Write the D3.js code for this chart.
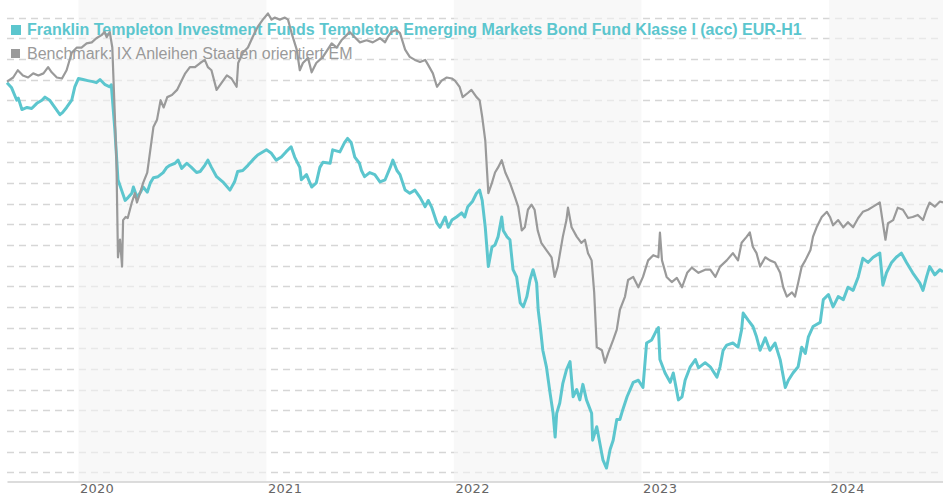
<!DOCTYPE html>
<html>
<head>
<meta charset="utf-8">
<script src="https://cdn.jsdelivr.net/npm/d3@7"></script>
<style>
  body { margin: 0; background: #fff; }
  svg { display: block; }
</style>
</head>
<body>
<svg class="line" width="943" height="500"></svg>
<script>
var fundName = 'Franklin Templeton Investment Funds Templeton Emerging Markets Bond Fund Klasse I (acc) EUR-H1';
var benchName = 'Benchmark: IX Anleihen Staaten orientiert EM';
var yearTicks = ['2020','2021','2022','2023','2024'];
var bandYears = ['2020','2022','2024'];

// performance in %
var fundDates = [
  '2019-08-15','2019-08-24','2019-09-03','2019-09-06','2019-09-13','2019-09-23','2019-10-02','2019-10-12','2019-10-22','2019-10-28',
  '2019-11-06','2019-11-16','2019-11-26','2019-12-01','2019-12-09','2019-12-19','2019-12-25','2020-01-01','2020-01-10','2020-01-19',
  '2020-01-29','2020-02-05','2020-02-12','2020-02-22','2020-03-02','2020-03-05','2020-03-12','2020-03-18','2020-03-25','2020-04-01',
  '2020-04-07','2020-04-14','2020-04-17','2020-04-24','2020-05-01','2020-05-06','2020-05-14','2020-05-20','2020-05-26','2020-06-04',
  '2020-06-14','2020-06-21','2020-06-27','2020-07-07','2020-07-13','2020-07-20','2020-07-30','2020-08-08','2020-08-18','2020-08-25',
  '2020-09-03','2020-09-09','2020-09-16','2020-09-26','2020-10-08','2020-10-22','2020-10-31','2020-11-06','2020-11-16','2020-11-26',
  '2020-12-05','2020-12-15','2021-01-01','2021-01-10','2021-01-20','2021-01-30','2021-02-08','2021-02-18','2021-02-25','2021-03-07',
  '2021-03-10','2021-03-20','2021-03-30','2021-04-08','2021-04-15','2021-04-21','2021-05-05','2021-05-10','2021-05-24','2021-06-02',
  '2021-06-08','2021-06-15','2021-06-22','2021-07-01','2021-07-05','2021-07-11','2021-07-21','2021-07-31','2021-08-10','2021-08-20',
  '2021-08-30','2021-09-04','2021-09-12','2021-09-18','2021-09-28','2021-10-07','2021-10-17','2021-10-27','2021-11-06','2021-11-12',
  '2021-11-19','2021-11-29','2021-12-05','2021-12-15','2021-12-21','2021-12-28','2022-01-06','2022-01-16','2022-01-22','2022-01-28',
  '2022-02-06','2022-02-14','2022-02-20','2022-02-25','2022-03-03','2022-03-06','2022-03-09','2022-03-16','2022-03-22','2022-03-28',
  '2022-04-04','2022-04-07','2022-04-14','2022-04-20','2022-04-26','2022-05-03','2022-05-10','2022-05-16','2022-05-23','2022-05-29',
  '2022-06-04','2022-06-11','2022-06-14','2022-06-18','2022-06-23','2022-06-30','2022-07-07','2022-07-13','2022-07-17','2022-07-20',
  '2022-07-26','2022-08-01','2022-08-08','2022-08-15','2022-08-21','2022-08-28','2022-09-03','2022-09-09','2022-09-16','2022-09-26',
  '2022-09-28','2022-10-06','2022-10-12','2022-10-18','2022-10-25','2022-11-01','2022-11-07','2022-11-14','2022-11-20','2022-11-26',
  '2022-12-04','2022-12-16','2022-12-26','2023-01-04','2023-01-11','2023-01-21','2023-01-31','2023-02-03','2023-02-06','2023-02-16',
  '2023-02-26','2023-03-04','2023-03-14','2023-03-21','2023-03-27','2023-04-06','2023-04-16','2023-04-22','2023-05-05','2023-05-15',
  '2023-05-28','2023-06-03','2023-06-09','2023-06-16','2023-06-28','2023-07-08','2023-07-15','2023-07-18','2023-07-28','2023-08-06',
  '2023-08-13','2023-08-20','2023-08-30','2023-09-08','2023-09-18','2023-09-28','2023-10-08','2023-10-14','2023-10-23','2023-11-02',
  '2023-11-09','2023-11-16','2023-11-22','2023-12-01','2023-12-15','2023-12-21','2023-12-31','2024-01-09','2024-01-19','2024-01-29',
  '2024-02-07','2024-02-17','2024-02-27','2024-03-07','2024-03-17','2024-03-27','2024-04-09','2024-04-15','2024-04-22','2024-05-02',
  '2024-05-11','2024-05-21','2024-05-31','2024-06-12','2024-06-26','2024-07-02','2024-07-09','2024-07-15','2024-07-25','2024-08-04',
  '2024-08-10'
];
var fundValues = [
  -0.3,-0.8,-2.0,-1.8,-2.9,-2.7,-2.8,-2.3,-2.0,-1.7,
  -2.0,-2.7,-3.4,-3.2,-2.7,-2.0,-0.7,0.1,0.0,-0.1,
  -0.2,-0.3,0.0,-0.5,-0.7,-0.5,-4.9,-9.7,-10.7,-11.7,
  -11.4,-11.0,-10.4,-11.4,-10.9,-10.4,-10.9,-10.0,-9.5,-9.4,
  -9.0,-8.5,-8.3,-8.1,-7.8,-8.6,-8.1,-8.5,-9.0,-8.9,
  -8.3,-7.8,-8.5,-9.4,-9.9,-10.7,-9.9,-8.9,-8.8,-8.3,
  -7.8,-7.3,-6.8,-7.1,-7.8,-7.5,-7.0,-6.5,-7.5,-8.5,
  -9.7,-9.2,-10.4,-10.0,-8.5,-8.0,-8.1,-6.8,-7.0,-6.1,
  -5.7,-6.1,-7.5,-8.1,-8.8,-9.4,-9.0,-9.2,-9.9,-9.7,
  -8.5,-7.8,-8.8,-9.2,-10.7,-11.0,-10.7,-11.4,-12.3,-11.7,
  -12.4,-13.9,-14.3,-13.3,-14.3,-13.6,-13.3,-12.9,-13.3,-12.3,
  -11.8,-11.0,-10.7,-11.7,-14.3,-16.2,-18.1,-16.2,-16.0,-15.2,
  -13.3,-14.6,-15.2,-15.5,-18.4,-19.1,-21.6,-22.0,-21.0,-19.4,
  -18.4,-19.7,-22.3,-23.9,-26.2,-27.8,-30.3,-32.3,-34.6,-32.3,
  -31.3,-29.4,-28.1,-27.3,-30.7,-30.0,-31.0,-29.5,-31.0,-32.3,
  -34.9,-33.6,-35.2,-36.8,-37.6,-35.8,-34.9,-32.9,-32.9,-31.9,
  -30.7,-29.3,-29.1,-29.8,-25.5,-25.2,-24.2,-24.0,-27.1,-28.4,
  -29.3,-28.4,-31.0,-30.7,-29.1,-27.8,-27.1,-27.9,-27.4,-27.8,
  -28.8,-27.8,-26.2,-25.7,-25.5,-25.9,-24.2,-22.6,-23.3,-23.9,
  -24.9,-26.2,-25.0,-26.2,-25.5,-27.1,-29.8,-29.1,-28.4,-27.8,
  -25.9,-26.5,-24.9,-23.9,-23.5,-21.3,-20.8,-22.0,-21.0,-21.3,
  -20.1,-20.4,-19.1,-17.3,-17.7,-17.2,-16.8,-19.9,-18.7,-17.7,
  -17.2,-16.8,-17.7,-18.7,-19.7,-20.4,-19.1,-18.1,-18.9,-18.4,
  -18.6
];

var benchDates = [
  '2019-08-15','2019-08-27','2019-09-05','2019-09-15','2019-09-25','2019-10-05','2019-10-15','2019-10-25','2019-11-03','2019-11-10',
  '2019-11-20','2019-11-30','2019-12-09','2019-12-19','2019-12-29','2020-01-07','2020-01-17','2020-01-27','2020-02-05','2020-02-15',
  '2020-02-21','2020-02-25','2020-03-02','2020-03-07','2020-03-12','2020-03-15','2020-03-18','2020-03-22','2020-03-26','2020-03-28',
  '2020-04-02','2020-04-06','2020-04-14','2020-04-20','2020-04-24','2020-04-30','2020-05-06','2020-05-14','2020-05-20','2020-05-26',
  '2020-06-02','2020-06-09','2020-06-15','2020-06-22','2020-07-01','2020-07-11','2020-07-21','2020-07-27','2020-08-05','2020-08-15',
  '2020-08-25','2020-09-03','2020-09-09','2020-09-16','2020-09-26','2020-10-06','2020-10-16','2020-10-25','2020-11-04','2020-11-07',
  '2020-11-16','2020-11-26','2020-12-05','2020-12-15','2020-12-25','2021-01-04','2021-01-11','2021-01-17','2021-01-27','2021-02-06',
  '2021-02-12','2021-02-19','2021-03-01','2021-03-07','2021-03-13','2021-03-23','2021-03-30','2021-04-08','2021-04-21','2021-05-08',
  '2021-05-18','2021-05-27','2021-06-06','2021-06-12','2021-06-22','2021-07-02','2021-07-15','2021-07-27','2021-08-10','2021-08-20',
  '2021-08-25','2021-09-01','2021-09-11','2021-09-18','2021-09-28','2021-10-07','2021-10-17','2021-10-27','2021-11-06','2021-11-12',
  '2021-11-21','2021-11-29','2021-12-08','2021-12-18','2021-12-28','2022-01-03','2022-01-12','2022-01-18','2022-01-28','2022-02-04',
  '2022-02-14','2022-02-20','2022-02-25','2022-03-03','2022-03-06','2022-03-09','2022-03-16','2022-03-22','2022-03-28','2022-04-04',
  '2022-04-11','2022-04-20','2022-04-30','2022-05-06','2022-05-13','2022-05-19','2022-05-25','2022-06-01','2022-06-07','2022-06-13',
  '2022-06-20','2022-06-30','2022-07-10','2022-07-16','2022-07-22','2022-08-01','2022-08-08','2022-08-11','2022-08-18','2022-08-28',
  '2022-09-06','2022-09-13','2022-09-19','2022-09-26','2022-10-01','2022-10-06','2022-10-16','2022-10-22','2022-10-28','2022-11-07',
  '2022-11-14','2022-11-20','2022-11-30','2022-12-06','2022-12-16','2022-12-26','2023-01-04','2023-01-14','2023-01-24','2023-02-03',
  '2023-02-06','2023-02-10','2023-02-19','2023-03-01','2023-03-11','2023-03-21','2023-03-31','2023-04-09','2023-04-22','2023-05-05',
  '2023-05-15','2023-05-25','2023-06-03','2023-06-16','2023-06-28','2023-07-08','2023-07-15','2023-07-25','2023-07-31','2023-08-06',
  '2023-08-13','2023-08-20','2023-08-30','2023-09-08','2023-09-18','2023-09-28','2023-10-04','2023-10-11','2023-10-21','2023-10-27',
  '2023-11-02','2023-11-09','2023-11-16','2023-11-26','2023-12-01','2023-12-08','2023-12-18','2023-12-28','2024-01-03','2024-01-09',
  '2024-01-19','2024-01-29','2024-02-07','2024-02-17','2024-02-27','2024-03-07','2024-03-17','2024-03-27','2024-04-09','2024-04-15',
  '2024-04-20','2024-04-25','2024-05-05','2024-05-14','2024-05-24','2024-06-03','2024-06-12','2024-06-22','2024-07-02','2024-07-09',
  '2024-07-15','2024-07-25','2024-08-04','2024-08-10'
];
var benchValues = [
  -0.2,0.2,0.9,0.4,0.2,0.6,0.4,0.6,1.2,0.7,
  0.2,0.1,0.9,2.6,3.1,3.1,3.5,3.6,4.0,4.3,
  4.6,4.1,4.6,3.1,-3.6,-7.8,-17.2,-15.5,-18.1,-13.6,
  -13.3,-13.4,-11.9,-11.0,-11.9,-11.0,-10.0,-9.0,-6.8,-4.6,
  -3.9,-2.0,-2.7,-1.7,-1.5,-1.0,0.0,0.6,1.2,1.2,
  1.6,1.9,1.2,0.9,-1.0,-0.3,0.4,0.1,-0.7,1.6,
  2.6,3.1,4.1,5.1,5.8,6.4,5.8,6.0,5.8,6.0,
  5.8,4.5,2.9,0.9,1.6,2.1,0.7,1.6,2.2,3.5,
  3.1,3.8,4.3,4.6,4.1,3.6,3.8,3.6,4.0,3.6,
  4.1,4.6,4.8,4.5,2.9,2.2,1.9,1.7,1.9,1.4,
  0.6,-0.7,-0.1,0.2,0.1,-0.1,-0.7,-1.7,-1.3,-1.0,
  -1.7,-2.0,-3.6,-5.9,-8.5,-11.0,-10.0,-9.0,-8.5,-7.8,
  -9.0,-10.0,-11.4,-12.3,-14.6,-14.3,-12.6,-12.1,-12.6,-14.6,
  -15.8,-16.5,-17.2,-19.1,-18.1,-15.2,-13.6,-12.4,-14.3,-15.2,
  -15.8,-15.5,-16.8,-17.5,-20.6,-25.9,-26.2,-27.4,-26.5,-25.2,
  -24.2,-22.3,-21.0,-19.4,-19.1,-20.1,-19.1,-17.5,-17.0,-17.2,
  -14.8,-17.5,-19.1,-19.6,-19.2,-20.1,-18.7,-18.2,-18.7,-18.4,
  -18.4,-19.1,-18.1,-17.5,-16.8,-17.5,-15.8,-15.2,-14.8,-16.2,
  -16.8,-18.1,-17.2,-17.5,-17.7,-18.7,-20.1,-21.0,-20.6,-21.0,
  -19.7,-18.1,-17.5,-16.5,-15.2,-14.3,-13.3,-12.8,-13.3,-14.1,
  -13.6,-14.3,-13.8,-14.3,-13.4,-12.8,-12.6,-12.3,-11.9,-13.9,
  -15.5,-13.9,-13.6,-12.4,-12.6,-13.4,-13.3,-13.1,-13.6,-12.6,
  -11.9,-12.3,-11.8,-11.9
];

var svg = d3.select('svg.line'),
  margin = {top: 0, right: 0, bottom: 18, left: 7},
  width = +svg.attr('width'),
  height = +svg.attr('height') - margin.bottom;

var parse = d3.utcParse('%Y-%m-%d');
var fund = fundDates.map(function(d, i) { return {date: parse(d), val: fundValues[i]}; });
var bench = benchDates.map(function(d, i) { return {date: parse(d), val: benchValues[i]}; });

var x = d3.scaleUtc()
  .domain([parse('2019-08-15'), parse('2024-08-10')])
  .range([margin.left, width]);
var y = d3.scaleLinear()
  .domain([-38.9, 7.7])
  .range([height - 0.5, margin.top]);

// grid lines
svg.append('g')
  .selectAll('line')
  .data(d3.range(-38, 7, 2))
  .enter().append('line')
  .attr('x1', margin.left)
  .attr('x2', width)
  .attr('y1', function(d) { return Math.round(y(d)) + 0.5; })
  .attr('y2', function(d) { return Math.round(y(d)) + 0.5; })
  .attr('stroke', '#d6d6d6')
  .attr('stroke-width', 1.3)
  .attr('stroke-dasharray', '7,5');

// alternate year bands (drawn over the grid so it looks lighter there)
svg.append('g')
  .selectAll('rect')
  .data(bandYears)
  .enter().append('rect')
  .attr('x', function(d) { return x(parse(d + '-01-01')); })
  .attr('y', 0)
  .attr('width', function(d) {
    var end = Math.min(x(parse((+d + 1) + '-01-01')), width);
    return end - x(parse(d + '-01-01'));
  })
  .attr('height', height - 0.5)
  .attr('fill', 'rgb(244,244,244)')
  .attr('fill-opacity', 0.6);

// x axis
var xAxis = svg.append('g')
  .attr('transform', 'translate(0,' + (height - 0.5) + ')')
  .call(d3.axisBottom(x)
    .tickValues(yearTicks.map(function(d) { return parse(d + '-01-01'); }))
    .tickFormat(d3.utcFormat('%Y'))
    .tickSize(0)
    .tickSizeOuter(0)
  );
xAxis.select('.domain').attr('stroke', '#d0d0d0').attr('stroke-width', 1.5);
xAxis.selectAll('text')
  .attr('text-anchor', 'start')
  .attr('x', 1)
  .attr('y', 2.5)
  .attr('dy', '0.71em')
  .style('font-family', 'DejaVu Sans, Verdana, sans-serif')
  .style('font-size', '13px')
  .style('letter-spacing', '0.3px')
  .attr('fill', '#666');

// legend
var legend = svg.append('g').style('font-family', 'Liberation Sans, Arial, sans-serif').style('font-size', '16px');
legend.append('rect').attr('x', 11).attr('y', 25).attr('width', 10).attr('height', 10).attr('fill', '#5cc6ce');
legend.append('text').attr('x', 27).attr('y', 35).attr('fill', '#5cc6ce').style('font-weight', 'bold').text(fundName);
legend.append('rect').attr('x', 11).attr('y', 49).attr('width', 9).attr('height', 9).attr('fill', '#9a9a9a');
legend.append('text').attr('x', 27).attr('y', 59).attr('fill', '#9a9a9a').text(benchName);

var line = d3.line()
  .x(function(d) { return x(d.date); })
  .y(function(d) { return y(d.val); });

svg.append('path')
  .datum(fund)
  .attr('class', 'line fund')
  .attr('d', line)
  .style('fill', 'none')
  .attr('stroke', '#5cc6ce')
  .attr('stroke-linejoin', 'round')
  .style('stroke-width', '3px');

svg.append('path')
  .datum(bench)
  .attr('class', 'line bench')
  .attr('d', line)
  .style('fill', 'none')
  .attr('stroke', '#9a9a9a')
  .attr('stroke-linejoin', 'round')
  .style('stroke-width', '2.2px');
</script>
</body>
</html>
